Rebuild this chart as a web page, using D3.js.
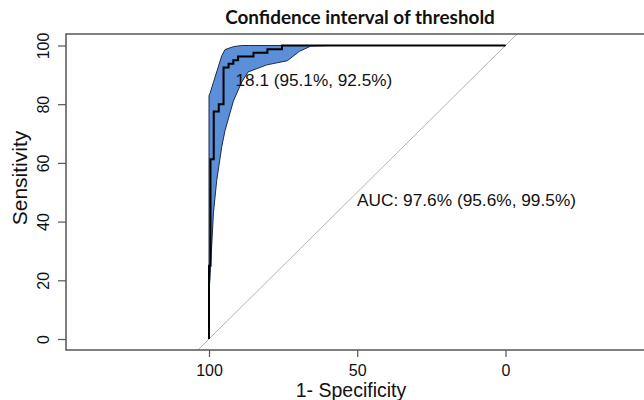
<!DOCTYPE html>
<html><head><meta charset="utf-8">
<script src="https://cdn.jsdelivr.net/npm/d3@7"></script>
<style>
html,body{margin:0;padding:0;background:#fff;}
svg{display:block;}
</style></head>
<body>
<svg id="chart" width="644" height="400"></svg>
<script>
// ---- data (percent) ----
const rocSpec = [100,100,99.5,99.5,98.4,98.4,96.7,96.7,95.1,95.1,93.4,93.4,91.8,91.8,90.2,90.2,85,85,80.3,80.3,75.4,75.4,0];
const rocSens = [0,25,25,61.25,61.25,77.5,77.5,80,80,92.5,92.5,93.75,93.75,95,95,96.25,96.25,97.5,97.5,98.75,98.75,100,100];

const ciSpec     = [100, 99.7, 99.4, 98.5, 97.4, 95.7, 94.6, 91.8, 89, 86.8, 80.5, 73.6, 69.5, 65.7, 60, 0];
const ciSensHigh = [83, 83.5, 84.5, 87.5, 91, 96.5, 98.6, 99.6, 100, 100, 100, 100, 100, 100, 100, 100];
const ciSensLow  = [17, 20, 26, 43, 54, 65.5, 71, 81, 87.5, 91, 93.4, 94.8, 98, 99.8, 100, 100];

const xTicks = [100, 50, 0];
const yTicks = [0, 20, 40, 60, 80, 100];

const thresholdLabel = "18.1 (95.1%, 92.5%)";
const thrSpec = 95.1, thrSens = 92.5;
const aucLabel = "AUC: 97.6% (95.6%, 99.5%)";
const titleText = "Confidence interval of threshold";
const xLabel = "1- Specificity";
const yLabel = "Sensitivity";

// ---- layout ----
const svg = d3.select("#chart");
const box = {left: 66, right: 648.5, top: 34, bottom: 350};
const x = d3.scaleLinear().domain([100, 0]).range([209, 505.5]);
const y = d3.scaleLinear().domain([0, 100]).range([339, 45.5]);

svg.append("defs").append("clipPath").attr("id","plotclip")
  .append("rect").attr("x", box.left).attr("y", box.top)
  .attr("width", box.right - box.left).attr("height", box.bottom - box.top);

const plot = svg.append("g").attr("clip-path","url(#plotclip)");

// diagonal (identity) line, extended across the plot box
const sMin = y.invert(box.bottom), sMax = y.invert(box.top);
plot.append("line")
  .attr("x1", x(100 - sMin)).attr("y1", y(sMin))
  .attr("x2", x(100 - sMax)).attr("y2", y(sMax))
  .attr("stroke", "#b4b4b4").attr("stroke-width", 1);

// CI band
const bandPts = ciSpec.map((s,i)=>[x(s), y(ciSensHigh[i])])
  .concat(ciSpec.map((s,i)=>[x(s), y(ciSensLow[i])]).reverse());
plot.append("path")
  .attr("d", d3.line()(bandPts) + "Z")
  .attr("fill", "#5b8fd7")
  .attr("stroke", "#1d2a4a").attr("stroke-width", 1);

// ROC curve
plot.append("path")
  .attr("d", d3.line()(rocSpec.map((s,i)=>[x(s), y(rocSens[i])])))
  .attr("fill", "none").attr("stroke", "#000").attr("stroke-width", 2)
  .attr("stroke-linejoin","miter");

// box
svg.append("rect").attr("x", box.left).attr("y", box.top)
  .attr("width", box.right - box.left).attr("height", box.bottom - box.top)
  .attr("fill","none").attr("stroke","#555").attr("stroke-width",1.5);

// x axis
const xAxis = svg.append("g").attr("transform", `translate(0,${box.bottom})`)
  .call(d3.axisBottom(x).tickValues(xTicks).tickSize(7).tickPadding(8).tickFormat(d3.format("d")));
xAxis.select(".domain").remove();
xAxis.selectAll(".tick line").attr("stroke","#555").attr("stroke-width",1.2);
xAxis.selectAll(".tick text").attr("font-family","Liberation Sans, Arial, sans-serif")
  .attr("font-size","16px").attr("fill","#111");

// y axis
const yAxis = svg.append("g").attr("transform", `translate(${box.left},0)`)
  .call(d3.axisLeft(y).tickValues(yTicks).tickSize(8).tickFormat(d3.format("d")));
yAxis.select(".domain").remove();
yAxis.selectAll(".tick line").attr("stroke","#555").attr("stroke-width",1.2);
yAxis.selectAll(".tick text")
  .attr("font-family","Liberation Sans, Arial, sans-serif").attr("font-size","16px").attr("fill","#111")
  .attr("x", null).attr("dy", null)
  .attr("transform", "translate(-23,0) rotate(-90)")
  .attr("text-anchor","middle").attr("dominant-baseline","central");

// threshold label
svg.append("text").attr("x", x(thrSpec) + 12).attr("y", y(thrSens) + 18.5)
  .attr("font-family","Liberation Sans, Arial, sans-serif").attr("font-size","17.2px").attr("fill","#111")
  .text(thresholdLabel);

// AUC label
svg.append("text").attr("x", 357).attr("y", 206)
  .attr("font-family","Liberation Sans, Arial, sans-serif").attr("font-size","17.3px").attr("fill","#111")
  .text(aucLabel);

// axis titles
svg.append("text").attr("x", 351).attr("y", 397)
  .attr("text-anchor","middle")
  .attr("font-family","Liberation Sans, Arial, sans-serif").attr("font-size","19.5px").attr("fill","#111")
  .text(xLabel);
svg.append("text").attr("transform","translate(27,178) rotate(-90)")
  .attr("text-anchor","middle")
  .attr("font-family","Liberation Sans, Arial, sans-serif").attr("font-size","21px").attr("fill","#111")
  .text(yLabel);

// title
const t = svg.append("text").attr("x", 360).attr("y", 24)
  .attr("text-anchor","middle")
  .attr("font-family","Lato, 'Noto Sans', sans-serif").attr("font-weight", 700)
  .attr("font-size","17px").attr("fill","#111")
  .text(titleText);
const w = t.node().getComputedTextLength();
t.attr("font-size", (17 * 270 / w) + "px");
</script>
</body></html>
